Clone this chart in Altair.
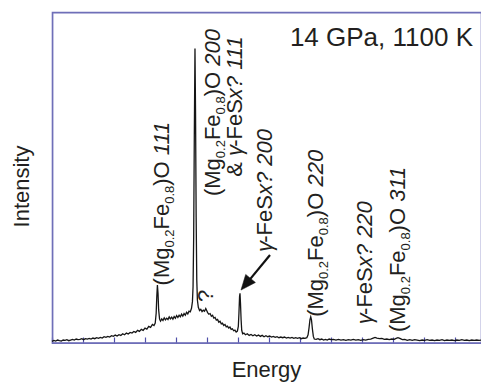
import altair as alt
import pandas as pd

# ---- spectrum (energy in arbitrary keV-like units, intensity 0-100) ----
energy = [
    20.0, 20.3, 20.6, 20.9, 21.2, 21.5, 21.8, 22.1, 22.4, 22.7, 23.0, 23.3, 23.6, 23.9, 24.2,
    24.5, 24.8, 25.1, 25.4, 25.7, 26.0, 26.3, 26.6, 26.9, 27.2, 27.5, 27.8, 28.1, 28.4, 28.7,
    29.0, 29.3, 29.6, 29.9, 30.2, 30.5, 30.8, 31.1, 31.4, 31.7, 32.0, 32.3, 32.6, 32.9, 33.2,
    33.5, 33.8, 34.1, 34.4, 34.7, 35.0, 35.3, 35.6, 35.9, 36.2, 36.45, 36.65, 36.8, 36.9, 37.0,
    37.1, 37.2, 37.35, 37.5, 37.7, 37.9, 38.1, 38.3, 38.5, 38.7, 38.9, 39.1, 39.3, 39.5, 39.7,
    39.9, 40.1, 40.3, 40.5, 40.7, 40.9, 41.1, 41.3, 41.5, 41.7, 41.9, 42.1, 42.3, 42.5, 42.65,
    42.75, 42.85, 42.95, 43.06, 43.15, 43.25, 43.35, 43.45, 43.6, 43.8, 44.0, 44.2, 44.4, 44.6,
    44.8, 44.95, 45.1, 45.3, 45.5, 45.7, 45.9, 46.1, 46.3, 46.5, 46.7, 46.9, 47.1, 47.3, 47.5,
    47.7, 47.9, 48.1, 48.3, 48.5, 48.7, 48.9, 49.1, 49.3, 49.5, 49.7, 49.9, 50.05, 50.15, 50.25,
    50.32, 50.4, 50.5, 50.6, 50.75, 50.95, 51.2, 51.5, 51.8, 52.1, 52.4, 52.7, 53.0, 53.3, 53.6,
    53.9, 54.2, 54.5, 54.8, 55.1, 55.4, 55.7, 56.0, 56.3, 56.6, 56.9, 57.2, 57.5, 57.8, 58.1,
    58.4, 58.7, 59.0, 59.3, 59.6, 59.9, 60.2, 60.5, 60.8, 61.1, 61.3, 61.45, 61.6, 61.73, 61.85,
    62.0, 62.15, 62.3, 62.6, 62.9, 63.2, 63.5, 63.8, 64.1, 64.4, 64.7, 65.0, 65.4, 65.8, 66.2,
    66.6, 67.0, 67.4, 67.8, 68.2, 68.6, 69.0, 69.4, 69.8, 70.2, 70.6, 71.0, 71.4, 71.8, 72.1,
    72.4, 72.8, 73.2, 73.6, 74.0, 74.4, 74.8, 75.2, 75.5, 75.8, 76.1, 76.5, 76.9, 77.3, 77.7,
    78.1, 78.5, 78.9, 79.3, 79.7, 80.1, 80.5, 80.9, 81.3, 81.7, 82.1, 82.5, 82.9, 83.3, 83.7,
    84.1, 84.5, 84.9, 85.3, 85.7, 86.1, 86.5, 86.9, 87.3, 87.7, 88.1, 88.5, 88.9, 89.2,
]
intensity = [
    0.5, 0.8, 0.6, 0.9, 0.7, 0.6, 0.9, 0.8, 1.0, 0.7, 0.9, 1.1, 0.9, 1.2, 1.0,
    1.1, 1.3, 1.0, 1.3, 1.2, 1.4, 1.2, 1.5, 1.3, 1.6, 1.4, 1.7, 1.5, 1.9, 1.7,
    2.0, 1.8, 2.2, 2.0, 2.4, 2.1, 2.5, 2.3, 2.8, 2.5, 3.0, 2.7, 3.2, 3.0, 3.5,
    3.2, 3.8, 3.5, 4.1, 3.8, 4.5, 4.2, 5.0, 4.7, 5.6, 5.3, 6.0, 9.0, 14.0, 17.5,
    15.0, 10.0, 7.2, 6.6, 7.3, 6.8, 7.6, 7.0, 7.5, 7.1, 7.9, 7.3, 7.8, 7.2, 8.0,
    7.5, 8.3, 7.7, 8.4, 7.9, 8.7, 8.1, 8.9, 8.4, 9.3, 8.8, 9.6, 9.4, 10.5, 12.5,
    17.0, 32.0, 62.0, 89.0, 70.0, 38.0, 19.0, 13.0, 10.8, 9.8, 10.2, 9.5, 9.9, 9.6,
    10.4, 9.8, 9.2, 8.7, 8.9, 8.1, 8.4, 7.5, 7.7, 6.9, 7.1, 6.3, 6.6, 5.8, 6.0,
    5.3, 5.6, 4.9, 5.1, 4.5, 4.8, 4.1, 4.3, 3.7, 3.9, 3.3, 3.6, 5.0, 9.0, 14.0,
    15.0, 12.0, 7.0, 3.8, 2.8, 3.0, 2.5, 2.8, 2.3, 2.6, 2.2, 2.5, 2.1, 2.4, 2.0,
    2.3, 1.9, 2.2, 1.9, 2.1, 1.8, 2.0, 1.7, 1.9, 1.6, 1.8, 1.6, 1.8, 1.5, 1.7,
    1.5, 1.7, 1.4, 1.6, 1.4, 1.6, 1.3, 1.5, 1.4, 1.6, 2.5, 4.5, 7.0, 7.9, 7.0,
    4.2, 2.0, 1.2, 1.1, 1.3, 1.0, 1.2, 0.9, 1.1, 0.9, 1.2, 1.0, 1.1, 0.9, 1.1,
    0.9, 1.0, 0.8, 1.0, 0.9, 1.1, 0.9, 1.0, 0.8, 1.0, 0.9, 1.1, 1.2, 1.5, 1.7,
    1.5, 1.3, 1.4, 1.1, 1.2, 1.0, 1.2, 1.1, 1.4, 1.6, 1.4, 1.0, 1.1, 0.8, 1.0,
    0.8, 1.0, 0.9, 0.7, 0.9, 0.8, 1.0, 0.8, 0.9, 0.7, 0.9, 0.8, 1.0, 0.7, 0.9,
    0.8, 0.9, 0.7, 0.9, 0.8, 1.0, 0.8, 0.9, 0.7, 0.9, 0.8, 0.9, 0.8, 0.9,
]

tick_energies = [20, 30, 40, 50, 60, 70, 80]
X_DOMAIN = [20, 89.19]
Y_DOMAIN = [0, 100]
PLOT_W, PLOT_H = 429, 331

# ---- peak labels: anchor (energy, intensity) of text start, and segments ----
# kinds: n = normal, s = subscript, i = italic
label_defs = [
    (38.9, 17.4, [("(Mg", "n"), ("0.2", "s"), ("Fe", "n"), ("0.8", "s"), (")O ", "n"), ("111", "i")]),
    (47.1, 44.4, [("(Mg", "n"), ("0.2", "s"), ("Fe", "n"), ("0.8", "s"), (")O ", "n"), ("200", "i")]),
    (50.65, 50.2, [("& ", "n"), ("γ", "i"), ("-FeS", "n"), ("x? ", "i"), ("111", "i")]),
    (55.5, 27.5, [("γ", "i"), ("-FeS", "n"), ("x? ", "i"), ("200", "i")]),
    (46.0, 12.4, [("?", "n")]),
    (63.7, 7.9, [("(Mg", "n"), ("0.2", "s"), ("Fe", "n"), ("0.8", "s"), (")O ", "n"), ("220", "i")]),
    (71.6, 5.7, [("γ", "i"), ("-FeS", "n"), ("x? ", "i"), ("220", "i")]),
    (76.9, 3.3, [("(Mg", "n"), ("0.2", "s"), ("Fe", "n"), ("0.8", "s"), (")O ", "n"), ("311", "i")]),
]
condition_text = "14 GPa, 1100 K"
condition_pos = (87.9, 89.7)
arrow_start = (55.16, 26.6)
arrow_base = (51.82, 19.0)
arrow_tip = (50.48, 16.0)

FONT = "Liberation Sans, Arial, Helvetica, sans-serif"
TXT = "#231f20"
FRAME = "#6f6fb8"
FS, SUB = 22, 13
WID = {"(": .333, ")": .333, "M": .833, "g": .556, "F": .611, "e": .556, "O": .778,
       ".": .278, " ": .278, "&": .667, "S": .667, "x": .5, "?": .556, "-": .333, "γ": .42}
for d in "0123456789":
    WID[d] = .556

px_per_I = PLOT_H / (Y_DOMAIN[1] - Y_DOMAIN[0])
rows = []
for E0, I0, segs in label_defs:
    off = 0.0
    for text, kind in segs:
        size = SUB if kind == "s" else FS
        rows.append({"E": E0, "I": I0 + off / px_per_I, "t": text, "k": kind})
        off += sum(WID[c] for c in text) * size
labels = pd.DataFrame(rows)

xs = alt.Scale(domain=X_DOMAIN, nice=False, zero=False)
ys = alt.Scale(domain=Y_DOMAIN, nice=False, zero=False)
X = alt.X("E:Q", scale=xs, title="Energy")
Y = alt.Y("I:Q", scale=ys, title="Intensity")

spec = pd.DataFrame({"E": energy, "I": intensity})
line = alt.Chart(spec).mark_line(color="#151515", strokeWidth=1.3).encode(x=X, y=Y)

# plot frame as an outlined rectangle covering the plot area
frame = alt.Chart(pd.DataFrame({"f": [1]})).mark_rect(
    stroke=FRAME, strokeWidth=1.4, fillOpacity=0, strokeOpacity=1).encode(
    x=alt.value(0.7), x2=alt.value(PLOT_W + 2), y=alt.value(0.7), y2=alt.value(PLOT_H))


def text_layer(kind, **kw):
    return alt.Chart(labels).transform_filter(alt.datum.k == kind).mark_text(
        angle=270, align="left", baseline="alphabetic", font=FONT, color=TXT, **kw
    ).encode(x=X, y=Y, text="t:N")


t_norm = text_layer("n", fontSize=FS)
t_sub = text_layer("s", fontSize=SUB, dy=5)
t_ital = text_layer("i", fontSize=FS, fontStyle="italic")

arrow_df = pd.DataFrame([{"E": arrow_start[0], "I": arrow_start[1],
                          "E2": arrow_base[0], "I2": arrow_base[1]}])
arrow_line = alt.Chart(arrow_df).mark_rule(color="#111111", strokeWidth=2.2).encode(
    x=X, y=Y, x2="E2:Q", y2="I2:Q")
head_df = pd.DataFrame([{"E": arrow_tip[0], "I": arrow_tip[1]}])
arrow_head = alt.Chart(head_df).mark_point(
    shape="M0,0L0.42,1L-0.42,1Z", filled=True, fill="#111111", stroke="#111111",
    strokeWidth=0.5, opacity=1, size=900, angle=219.6).encode(x=X, y=Y)

cond_df = pd.DataFrame([{"E": condition_pos[0], "I": condition_pos[1], "t": condition_text}])
cond = alt.Chart(cond_df).mark_text(
    align="right", baseline="alphabetic", font=FONT, fontSize=26, color=TXT).encode(
    x=X, y=Y, text="t:N")

chart = alt.layer(frame, line, t_norm, t_sub, t_ital, arrow_line, arrow_head, cond).properties(
    width=PLOT_W, height=PLOT_H,
    autosize=alt.AutoSizeParams(type="none"),
    padding={"left": 52, "top": 12, "right": 0, "bottom": 39},
).configure_view(
    stroke=FRAME, strokeWidth=1.2
).configure_axisX(
    values=tick_energies, labels=False, grid=False, domain=False,
    ticks=True, tickSize=6, tickColor="#4f4fa8", tickWidth=1.2, offset=-6,
    titleFont=FONT, titleFontSize=22, titleFontWeight="normal",
    titleColor=TXT, titleX=214, titleY=39, titleBaseline="alphabetic", titleAlign="center",
).configure_axisY(
    labels=False, ticks=False, grid=False, domain=False,
    titleFont=FONT, titleFontSize=22, titleFontWeight="normal",
    titleColor=TXT, titleX=-24, titleY=174, titleAngle=270,
    titleBaseline="alphabetic", titleAlign="center",
)

chart.save("out.html", embed_options={"renderer": "svg", "actions": False})
